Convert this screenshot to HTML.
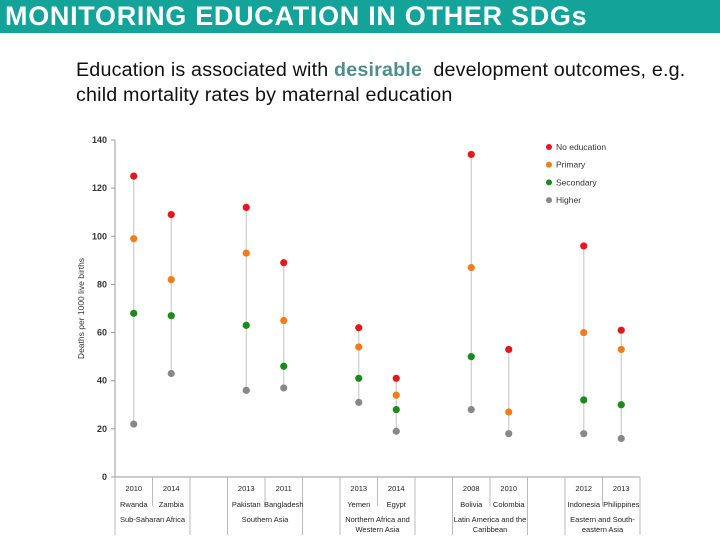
<!DOCTYPE html>
<html><head><meta charset="utf-8"><style>
body{margin:0;width:720px;height:540px;background:#fff;overflow:hidden;font-family:"Liberation Sans",sans-serif}
#hdr{position:absolute;left:0;top:0;width:720px;height:33px;background:#13a398}
#hdr span{position:absolute;left:5px;top:0px;color:#fff;font-weight:bold;font-size:27px;line-height:32px;letter-spacing:0.7px;white-space:nowrap}
#sub{position:absolute;left:76px;top:58px;font-size:19.7px;line-height:25px;color:#111;white-space:nowrap;letter-spacing:0.18px}
#sub b{color:#4e8f8c;font-weight:bold}
svg{position:absolute;left:0;top:0}
</style></head><body>
<div id="hdr"><span>MONITORING EDUCATION IN OTHER SDGs</span></div>
<div id="sub">Education is associated with <b>desirable</b>&nbsp; development outcomes, e.g.<br>child mortality rates by maternal education</div>
<svg id="chart" width="720" height="540"></svg>
<script>
const years=["2010","2014","","2013","2011","","2013","2014","","2008","2010","","2012","2013"];
const countries=["Rwanda","Zambia","","Pakistan","Bangladesh","","Yemen","Egypt","","Bolivia","Colombia","","Indonesia","Philippines"];
const regions=[["Sub-Saharan Africa"],["Southern Asia"],["Northern Africa and","Western Asia"],["Latin America and the","Caribbean"],["Eastern and South-","eastern Asia"]];
const noEdu=[125,109,null,112,89,null,62,41,null,134,53,null,96,61];
const primary=[99,82,null,93,65,null,54,34,null,87,27,null,60,53];
const secondary=[68,67,null,63,46,null,41,28,null,50,null,null,32,30];
const higher=[22,43,null,36,37,null,31,19,null,28,18,null,18,16];
const yTicks=[0,20,40,60,80,100,120,140];
const seriesNames=["No education","Primary","Secondary","Higher"];
const colors=["#e3171c","#f07d1a","#1a8a1a","#888888"];
const NS="http://www.w3.org/2000/svg",svg=document.getElementById('chart');
const x0=115,slot=37.5,yTop=140,yBot=477;
const X=i=>x0+slot*(i+0.5);
const Y=v=>yBot-(v/140)*(yBot-yTop);
function el(t,a,txt){const e=document.createElementNS(NS,t);for(const k in a)e.setAttribute(k,a[k]);if(txt!=null)e.textContent=txt;svg.appendChild(e);return e;}
let e=el('line',{x1:x0,y1:yTop,x2:x0,y2:yBot,stroke:'#999'});

e=el('line',{x1:x0,y1:yBot,x2:x0+slot*14,y2:yBot,stroke:'#999'});

yTicks.forEach(t=>{
 el('line',{x1:x0-4,y1:Y(t),x2:x0,y2:Y(t),stroke:'#999'});
 e=el('text',{x:x0-8,y:Y(t)+3,'font-size':9,'font-weight':'bold','text-anchor':'end',fill:'#333'},t);
 
});
e=el('text',{transform:`translate(84,${(yTop+yBot)/2}) rotate(-90)`,'font-size':8.5,'text-anchor':'middle',fill:'#333'},'Deaths per 1000 live births');

const all=[noEdu,primary,secondary,higher];
years.forEach((yr,i)=>{
 const vals=all.map(s=>s[i]).filter(v=>v!=null);
 if(vals.length){
  e=el('line',{x1:X(i),x2:X(i),y1:Y(Math.max(...vals)),y2:Y(Math.min(...vals)),stroke:'#ccc','stroke-width':1.2});
  
 }
});
all.forEach((s,k)=>s.forEach((v,i)=>{if(v==null)return;
 e=el('circle',{cx:X(i),cy:Y(v),r:3.6,fill:colors[k]});
 
}));
for(let i=0;i<=14;i++){
 el('line',{x1:x0+slot*i,x2:x0+slot*i,y1:yBot,y2:(i%3==1)?506:535,stroke:'#bbb'});
}
years.forEach((yr,i)=>{if(!yr)return;
 e=el('text',{x:X(i),y:491,'font-size':7.5,'text-anchor':'middle',fill:'#222'},yr);
 
 e=el('text',{x:X(i),y:507,'font-size':7.5,'text-anchor':'middle',fill:'#222'},countries[i]);
 
});
regions.forEach((r,g)=>{const cx=x0+slot*(g*3+1);
 r.forEach((ln,j)=>{e=el('text',{x:cx,y:522+j*10,'font-size':7.5,'text-anchor':'middle',fill:'#222'},ln);
 });
});
seriesNames.forEach((n,k)=>{
 e=el('circle',{cx:549,cy:147+k*17.7,r:3,fill:colors[k]});
 
 e=el('text',{x:556,y:150+k*17.7,'font-size':8.5,fill:'#333'},n);
 
});
</script>
</body></html>
